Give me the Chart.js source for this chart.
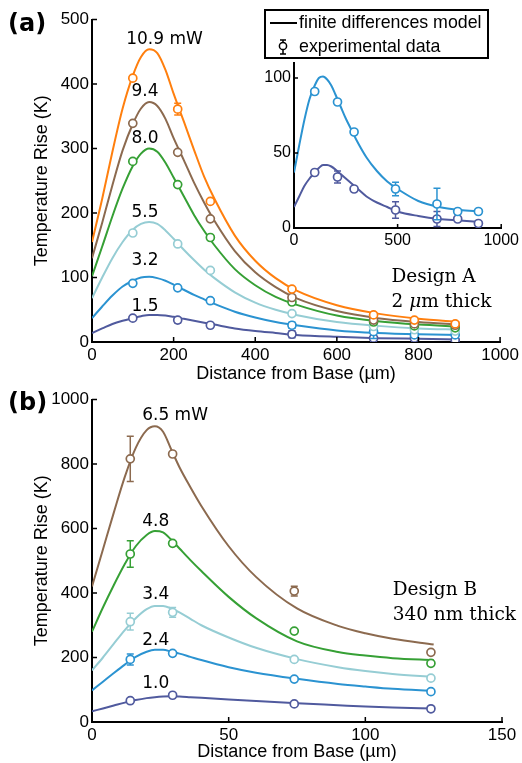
<!DOCTYPE html>
<html>
<head>
<meta charset="utf-8">
<script src="https://cdn.jsdelivr.net/npm/chart.js@4.4.1/dist/chart.umd.min.js"></script>
<style>
  html, body { margin: 0; padding: 0; background: #fff; }
  body { width: 522px; height: 763px; position: relative; overflow: hidden; }
  canvas { position: absolute; }
  #cA { left: 0; top: 0; }
  #cB { left: 0; top: 380px; }
  #cI { left: 250px; top: 0; }
</style>
</head>
<body>
<canvas id="cA" width="522" height="385"></canvas>
<canvas id="cB" width="522" height="383"></canvas>
<canvas id="cI" width="272" height="255"></canvas>
<script>
// colours per power level, highest first
const colors = ['#ff7f0e', '#8c6a4f', '#36a035', '#96cdd4', '#2b93d1', '#505a9e'];

// ---- panel (a): design A, 2 um thick ----
const aPowers = ['10.9', '9.4', '8.0', '5.5', '3.2', '1.5'];
const aLabelY = [469, 389, 315, 200, 127, 55];
const aModelX = [0, 25, 50, 75, 100, 120, 140, 160, 180, 200, 225, 250, 275, 300, 350, 400, 450, 500, 600, 700, 800, 900];
const aModel109 = [155, 222, 295, 362, 413, 442, 454, 448, 422, 385, 342, 298, 256, 222, 165, 126, 99, 80, 57, 44, 36, 31];
const aModel94  = [130, 185, 243, 297, 338, 362, 372, 366, 346, 316, 282, 247, 216, 188, 141, 108, 85, 68, 48, 37, 31, 27];
const aModel80  = [102, 148, 195, 238, 273, 292, 300, 295, 278, 255, 226, 197, 172, 150, 113, 88, 70, 58, 41, 32, 27, 24];
const aModel55  = [68, 100, 130, 155, 174, 183, 186, 183, 173, 160, 143, 127, 112, 99, 77, 61, 50, 42, 31, 25, 21, 19];
const aModel32  = [37, 55, 72, 86, 95, 100, 101, 99, 95, 89, 81, 73, 66, 59, 47, 38, 31, 26, 18, 14, 12, 11];
const aModel15  = [14, 21, 28, 33, 37, 40, 42, 42, 41, 39, 36, 33, 30, 27, 21, 17, 14, 11, 8, 6, 5, 4];

const aExpX = [100, 210, 290, 490, 690, 790, 890];
const aExp109 = [409, 361, 218, 82, 42, 34, 28];
const aExp94  = [339, 294, 191, 69, 34, 28, 26];
const aExp80  = [280, 244, 162, 62, 31, 25, 22];
const aExp55  = [169, 152, 111, 44, 24, 19, 17];
const aExp32  = [91, 84, 64, 26, 16, 11, 11];
const aExp15  = [37, 34, 26, 12, 6, 6, 3];
const aErr109 = [0, 9, 0, 0, 0, 0, 0];
const aErr32  = [0, 0, 0, 4.5, 10.5, 0, 0];
const aErr15  = [0, 4, 0, 5.5, 5, 0, 0];
const aNone   = [0, 0, 0, 0, 0, 0, 0];

// ---- panel (b): design B, 340 nm thick ----
const bPowers = ['6.5', '4.8', '3.4', '2.4', '1.0'];
const bLabelY = [949, 621, 396, 254, 118];
const bModelX = [0, 4, 8, 12, 16, 20, 23, 26, 29, 32, 36, 40, 50, 60, 75, 90, 100, 110, 125];
const bModel65 = [420, 535, 650, 760, 850, 905, 917, 900, 845, 790, 728, 670, 545, 450, 352, 298, 275, 258, 240];
const bModel48 = [280, 355, 425, 490, 545, 580, 592, 588, 565, 538, 502, 468, 388, 322, 250, 217, 206, 198, 192];
const bModel34 = [160, 200, 243, 285, 322, 350, 360, 360, 352, 340, 320, 300, 262, 230, 195, 170, 158, 149, 140];
const bModel24 = [98, 125, 152, 178, 202, 218, 224, 224, 218, 212, 202, 192, 170, 153, 134, 118, 110, 103, 97];
const bModel10 = [33, 42, 51, 60, 68, 74, 77, 79, 80, 79, 77, 75, 70, 65, 58, 52, 48, 45, 42];

const bExpX = [14, 29.5, 74, 124];
const bExp65 = [816, 831, 406, 216];
const bExp48 = [521, 554, 282, 182];
const bExp34 = [311, 340, 194, 136];
const bExp24 = [194, 213, 133, 94];
const bExp10 = [66, 83, 56, 41];
const bErr65 = [70, 0, 15, 0];
const bErr48 = [41, 0, 0, 0];
const bErr34 = [26, 15, 0, 0];
const bErr24 = [17, 0, 0, 0];
const bErr10 = [0, 0, 0, 0];

const SANS = '"Liberation Sans", Arial, sans-serif';

function pairs(xs, ys) { return xs.map((x, i) => ({ x: x, y: ys[i] })); }

function modelSet(xs, ys, color) {
  return { data: pairs(xs, ys), borderColor: color, borderWidth: 2, pointRadius: 0,
           cubicInterpolationMode: 'monotone', fill: false, order: 2 };
}
function expSet(xs, ys, errs, color) {
  return { data: pairs(xs, ys), errors: errs, showLine: false, borderColor: color,
           pointBorderColor: color, pointBackgroundColor: '#fff', pointRadius: 4,
           pointBorderWidth: 1.7, order: 1 };
}

// error bars drawn just before each experimental dataset, so the circles sit on top
const errorBars = {
  id: 'errorBars',
  beforeDatasetDraw(chart, args) {
    const ds = chart.data.datasets[args.index];
    if (!ds.errors) return;
    const sx = chart.scales.x, sy = chart.scales.y, ctx = chart.ctx;
    ctx.save();
    ctx.strokeStyle = ds.borderColor;
    ctx.lineWidth = 1.5;
    ds.data.forEach((p, i) => {
      const e = ds.errors[i];
      if (!e) return;
      const px = sx.getPixelForValue(p.x);
      const t = sy.getPixelForValue(p.y + e), b = sy.getPixelForValue(p.y - e);
      ctx.beginPath();
      ctx.moveTo(px, t); ctx.lineTo(px, b);
      ctx.moveTo(px - 3.5, t); ctx.lineTo(px + 3.5, t);
      ctx.moveTo(px - 3.5, b); ctx.lineTo(px + 3.5, b);
      ctx.stroke();
    });
    ctx.restore();
  }
};

// matlab-like ticks pointing into the plot
function inTicks(len) {
  return {
    id: 'inTicks',
    afterDraw(chart) {
      const { ctx, chartArea: a, scales } = chart;
      ctx.save();
      ctx.strokeStyle = '#000';
      ctx.lineWidth = 1.5;
      ctx.beginPath();
      scales.x.ticks.forEach(t => {
        const p = scales.x.getPixelForValue(t.value);
        ctx.moveTo(p, a.bottom); ctx.lineTo(p, a.bottom - len);
      });
      scales.y.ticks.forEach(t => {
        const p = scales.y.getPixelForValue(t.value);
        ctx.moveTo(a.left, p); ctx.lineTo(a.left + len, p);
      });
      ctx.stroke();
      ctx.restore();
    }
  };
}

function notes(fn) { return { id: 'notes', afterDraw: fn }; }

function powerLabels(chart, powers, ys, xAt) {
  const ctx = chart.ctx, sx = chart.scales.x, sy = chart.scales.y;
  ctx.save();
  ctx.font = '17px "DejaVu Sans", sans-serif';
  ctx.fillStyle = '#000';
  ctx.textBaseline = 'middle';
  ctx.textAlign = 'left';
  powers.forEach((p, i) => {
    const w = ctx.measureText(p).width;
    const cx = sx.getPixelForValue(xAt), cy = sy.getPixelForValue(ys[i]);
    ctx.fillText(i === 0 ? p + ' mW' : p, cx - w / 2, cy);
  });
  ctx.restore();
}

function panelTag(ctx, txt, x, y) {
  ctx.save();
  ctx.font = 'bold 24px "DejaVu Sans", sans-serif';
  ctx.fillStyle = '#000';
  ctx.textBaseline = 'middle';
  ctx.fillText(txt, x, y);
  ctx.restore();
}

function serifNote(chart, xv, yv1, yv2, line1, parts2) {
  const ctx = chart.ctx, sx = chart.scales.x, sy = chart.scales.y;
  const x = sx.getPixelForValue(xv);
  ctx.save();
  ctx.fillStyle = '#000';
  ctx.textBaseline = 'middle';
  ctx.font = '18.5px "DejaVu Serif", serif';
  ctx.fillText(line1, x, sy.getPixelForValue(yv1));
  let cx = x;
  const y2 = sy.getPixelForValue(yv2);
  parts2.forEach(([s, it]) => {
    ctx.font = (it ? 'italic ' : '') + '18.5px "DejaVu Serif", serif';
    ctx.fillText(s, cx, y2);
    cx += ctx.measureText(s).width;
  });
  ctx.restore();
}

function axes(xmax, xstep, ymax, ystep, yWidth, xHeight, fontSize, titles) {
  const tickFont = { family: SANS, size: fontSize };
  const plain = v => String(v);
  return {
    x: {
      type: 'linear', min: 0, max: xmax,
      ticks: { stepSize: xstep, color: '#000', font: tickFont, padding: 3, maxRotation: 0, callback: plain },
      grid: { display: false, drawTicks: false },
      border: { display: true, color: '#000', width: 2 },
      title: titles ? { display: true, text: 'Distance from Base (µm)', color: '#000',
                        font: { family: SANS, size: 18 }, padding: { top: 0, bottom: 0 } } : { display: false },
      afterFit: s => { s.height = xHeight; }
    },
    y: {
      type: 'linear', min: 0, max: ymax,
      ticks: { stepSize: ystep, color: '#000', font: tickFont, padding: 3, includeBounds: false, callback: plain },
      grid: { display: false, drawTicks: false },
      border: { display: true, color: '#000', width: 2 },
      title: titles ? { display: true, text: 'Temperature Rise (K)', color: '#000',
                        font: { family: SANS, size: 18 }, padding: { top: 31, bottom: 0 } } : { display: false },
      afterFit: s => { s.width = yWidth; }
    }
  };
}

const baseOpts = {
  responsive: false, animation: false, events: [],
  plugins: { legend: { display: false }, tooltip: { enabled: false } }
};

// ---- chart (a) ----
const aModels = [aModel109, aModel94, aModel80, aModel55, aModel32, aModel15];
const aExps = [aExp109, aExp94, aExp80, aExp55, aExp32, aExp15];
const aErrs = [aErr109, aNone, aNone, aNone, aErr32, aErr15];
new Chart(document.getElementById('cA'), {
  type: 'line',
  data: { datasets: [
    ...aExps.map((ys, i) => expSet(aExpX, ys, aErrs[i], colors[i])),
    ...aModels.map((ys, i) => modelSet(aModelX, ys, colors[i]))
  ] },
  options: { ...baseOpts,
    layout: { padding: { left: 0, right: 20, top: 19.5, bottom: 0 } },
    scales: axes(1000, 200, 500, 100, 92, 43, 17, true)
  },
  plugins: [errorBars, inTicks(5), notes(chart => {
    powerLabels(chart, aPowers, aLabelY, 130);
    panelTag(chart.ctx, '(a)', 8, 25);
    serifNote(chart, 734, 101, 62, 'Design A', [['2 ', false], ['μ', true], ['m thick', false]]);
  })]
});

// ---- inset of (a): two lowest powers ----
new Chart(document.getElementById('cI'), {
  type: 'line',
  data: { datasets: [
    expSet(aExpX, aExp32, aErr32, colors[4]),
    expSet(aExpX, aExp15, aErr15, colors[5]),
    modelSet(aModelX, aModel32, colors[4]),
    modelSet(aModelX, aModel15, colors[5])
  ] },
  options: { ...baseOpts,
    layout: { padding: { left: 0, right: 19, top: 63, bottom: 0 } },
    scales: axes(1000, 500, 110, 50, 44, 27, 16, false)
  },
  plugins: [errorBars, inTicks(4), notes(chart => {
    const ctx = chart.ctx;
    ctx.save();
    ctx.strokeStyle = '#000';
    ctx.lineWidth = 2;
    ctx.strokeRect(15, 10, 223, 48);
    ctx.beginPath(); ctx.moveTo(20, 23); ctx.lineTo(47, 23); ctx.stroke();
    ctx.lineWidth = 1.5;
    ctx.beginPath();
    ctx.moveTo(33, 40); ctx.lineTo(33, 54);
    ctx.moveTo(30, 40); ctx.lineTo(36, 40);
    ctx.moveTo(30, 54); ctx.lineTo(36, 54);
    ctx.stroke();
    ctx.beginPath(); ctx.arc(33, 46, 3.6, 0, Math.PI * 2);
    ctx.fillStyle = '#fff'; ctx.fill(); ctx.stroke();
    ctx.fillStyle = '#000';
    ctx.font = '17.8px ' + SANS;
    ctx.textBaseline = 'middle';
    ctx.fillText('finite differences model', 49, 23);
    ctx.fillText('experimental data', 49, 47);
    ctx.restore();
  })]
});

// ---- chart (b) ----
const bModels = [bModel65, bModel48, bModel34, bModel24, bModel10];
const bExps = [bExp65, bExp48, bExp34, bExp24, bExp10];
const bErrs = [bErr65, bErr48, bErr34, bErr24, bErr10];
const bColors = [colors[1], colors[2], colors[3], colors[4], colors[5]];
new Chart(document.getElementById('cB'), {
  type: 'line',
  data: { datasets: [
    ...bExps.map((ys, i) => expSet(bExpX, ys, bErrs[i], bColors[i])),
    ...bModels.map((ys, i) => modelSet(bModelX, ys, bColors[i]))
  ] },
  options: { ...baseOpts,
    layout: { padding: { left: 0, right: 20, top: 19.5, bottom: 0 } },
    scales: axes(150, 50, 1000, 200, 92, 41, 17, true)
  },
  plugins: [errorBars, inTicks(5), notes(chart => {
    powerLabels(chart, bPowers, bLabelY, 23.3);
    panelTag(chart.ctx, '(b)', 8, 24);
    serifNote(chart, 110, 409, 332, 'Design B', [['340 nm thick', false]]);
  })]
});
</script>
</body>
</html>
